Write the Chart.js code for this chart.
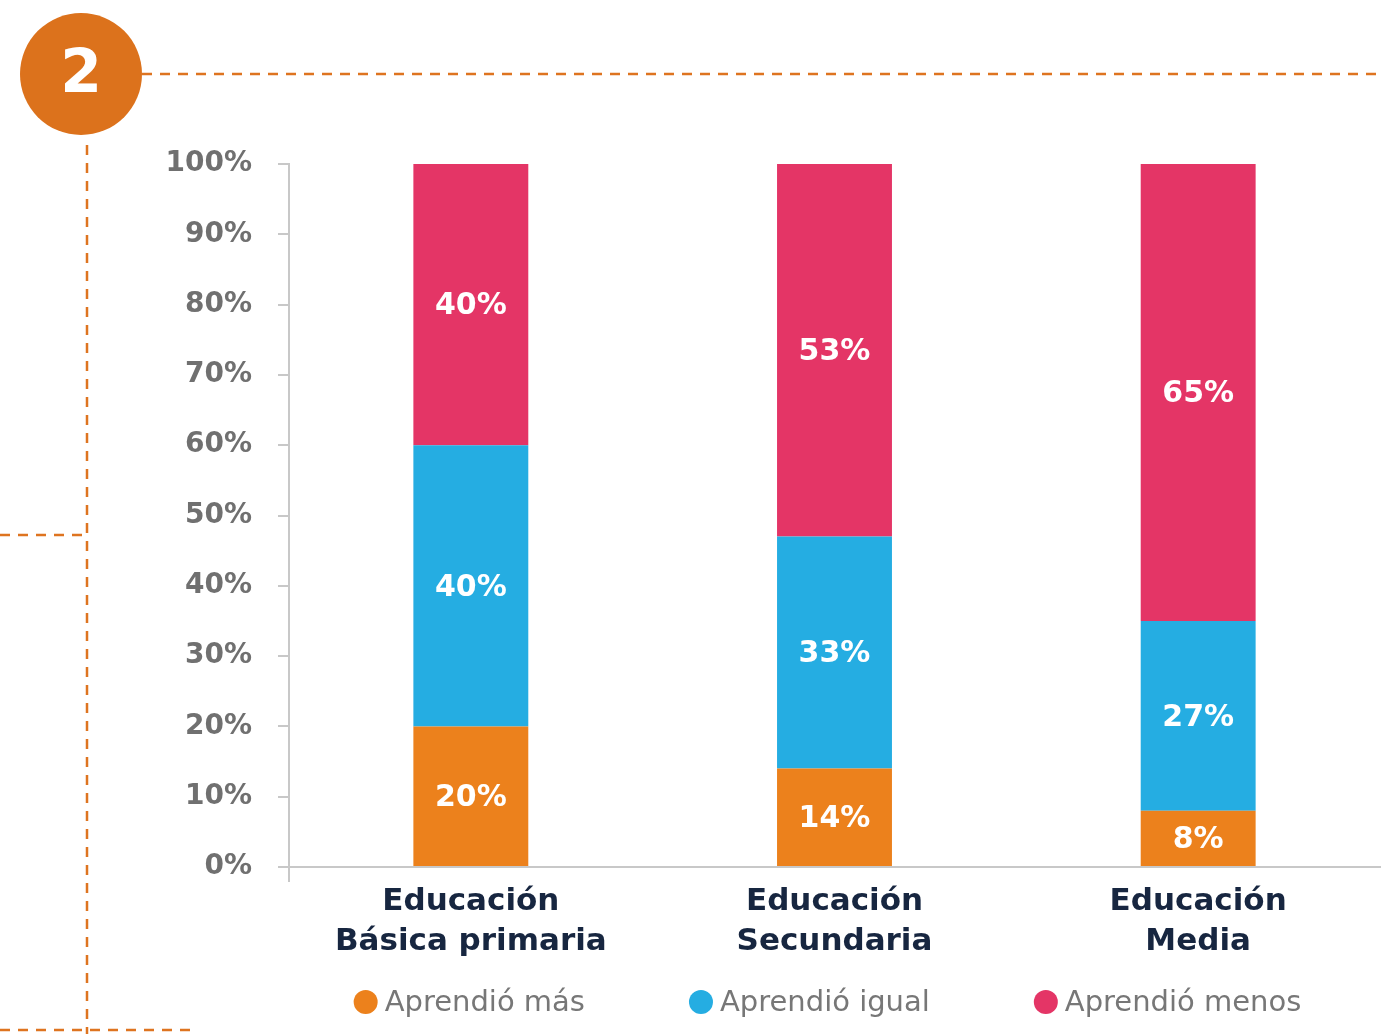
<!DOCTYPE html>
<html><head><meta charset="utf-8">
<script src="https://cdn.jsdelivr.net/npm/chart.js@4.4.1/dist/chart.umd.min.js"></script>
<style>html,body{margin:0;padding:0;background:#fff}#wrap{position:relative;width:1391px;height:1034px}</style>
</head><body><div id="wrap"><canvas id="c"></canvas></div>
<script>
const categories = [["Educación", "Básica primaria"], ["Educación", "Secundaria"], ["Educación", "Media"]];
const seriesNames = ["Aprendió más", "Aprendió igual", "Aprendió menos"];
const aprendioMas = [20, 14, 8];
const aprendioIgual = [40, 33, 27];
const aprendioMenos = [40, 53, 65];
const yTickValues = [0, 10, 20, 30, 40, 50, 60, 70, 80, 90, 100];
const badgeText = "2";

const FONT = "'DejaVu Sans', sans-serif";
const colors = ["#EC811C", "#25ADE2", "#E43566"];
const AXIS = "#c8c8c8";
const DECO = "#DE7420";

const decoPlugin = {
  id: 'deco',
  beforeDraw(chart) {
    const c = chart.ctx;
    c.save();
    c.strokeStyle = DECO;
    c.lineWidth = 2.5;
    c.setLineDash([10, 8]);
    c.beginPath();
    c.moveTo(142, 74); c.lineTo(1380, 74);
    c.moveTo(87, 145); c.lineTo(87, 1034);
    c.moveTo(0, 535); c.lineTo(86, 535);
    c.moveTo(0, 1030); c.lineTo(192, 1030);
    c.stroke();
    c.setLineDash([]);
    c.fillStyle = "#DC721C";
    c.beginPath(); c.arc(81, 74, 61, 0, Math.PI * 2); c.fill();
    c.fillStyle = "#fff";
    c.font = "bold 60px " + FONT;
    c.textAlign = "center"; c.textBaseline = "middle";
    c.fillText(badgeText, 81, 76);
    c.restore();
  }
};

const valueLabels = {
  id: 'valueLabels',
  afterDatasetsDraw(chart) {
    const c = chart.ctx;
    c.save();
    c.fillStyle = "#fff";
    c.font = "bold 30px " + FONT;
    c.textAlign = "center"; c.textBaseline = "middle";
    chart.data.datasets.forEach((ds, di) => {
      const meta = chart.getDatasetMeta(di);
      meta.data.forEach((el, i) => {
        const p = el.getProps(['x', 'y', 'base'], true);
        c.fillText(ds.data[i] + "%", p.x, (p.y + p.base) / 2 + 2);
      });
    });
    c.restore();
  }
};

// legend drawn from the datasets, centred under the plot area
const bottomLegend = {
  id: 'bottomLegend',
  afterDraw(chart) {
    const c = chart.ctx;
    const r = 12, gapText = 7, gapItem = 104;
    c.save();
    c.font = "29px " + FONT;
    c.textBaseline = "middle";
    c.textAlign = "left";
    const items = chart.data.datasets.map(ds => ({ text: ds.label, color: ds.backgroundColor, w: c.measureText(ds.label).width }));
    const total = items.reduce((s, it) => s + 2 * r + gapText + it.w, 0) + gapItem * (items.length - 1);
    const ca = chart.chartArea;
    let x = (ca.left + ca.right) / 2 - 7 - total / 2;
    const y = 1002;
    items.forEach(it => {
      c.fillStyle = it.color;
      c.beginPath(); c.arc(x + r, y, r, 0, Math.PI * 2); c.fill();
      c.fillStyle = "#777777";
      c.fillText(it.text, x + 2 * r + gapText, y + 1);
      x += 2 * r + gapText + it.w + gapItem;
    });
    c.restore();
  }
};

new Chart(document.getElementById('c'), {
  type: 'bar',
  data: {
    labels: categories,
    datasets: [
      { label: seriesNames[0], data: aprendioMas, backgroundColor: colors[0] },
      { label: seriesNames[1], data: aprendioIgual, backgroundColor: colors[1] },
      { label: seriesNames[2], data: aprendioMenos, backgroundColor: colors[2] }
    ]
  },
  options: {
    responsive: true,
    maintainAspectRatio: false,
    animation: false,
    layout: { padding: { top: 164, left: 0, right: 11, bottom: 0 } },
    datasets: { bar: { categoryPercentage: 1, barPercentage: 0.316 } },
    plugins: {
      tooltip: { enabled: false },
      legend: { display: false }
    },
    scales: {
      x: {
        stacked: true,
        border: { display: true, color: AXIS, width: 2 },
        grid: {
          drawOnChartArea: false, drawTicks: true, tickLength: 15, lineWidth: 2,
          color: (ctx) => ctx.index === 0 ? AXIS : 'rgba(0,0,0,0)'
        },
        ticks: {
          padding: -1,
          color: "#172640",
          font: { family: FONT, size: 31, weight: 'bold', lineHeight: 1.32 },
          maxRotation: 0
        },
        afterFit(scale) { scale.height = 167; }
      },
      y: {
        stacked: true,
        min: 0, max: 100,
        afterBuildTicks(scale) { scale.ticks = yTickValues.map(v => ({ value: v })); },
        border: { display: true, color: AXIS, width: 2 },
        grid: { drawOnChartArea: false, drawTicks: true, tickLength: 11, color: AXIS, lineWidth: 2 },
        ticks: {
          padding: 26,
          color: "#707070",
          font: { family: FONT, size: 28, weight: 'bold' },
          callback: (v) => v + "%"
        },
        afterFit(scale) { scale.width = 289; }
      }
    }
  },
  plugins: [decoPlugin, valueLabels, bottomLegend]
});
</script>
</body></html>
